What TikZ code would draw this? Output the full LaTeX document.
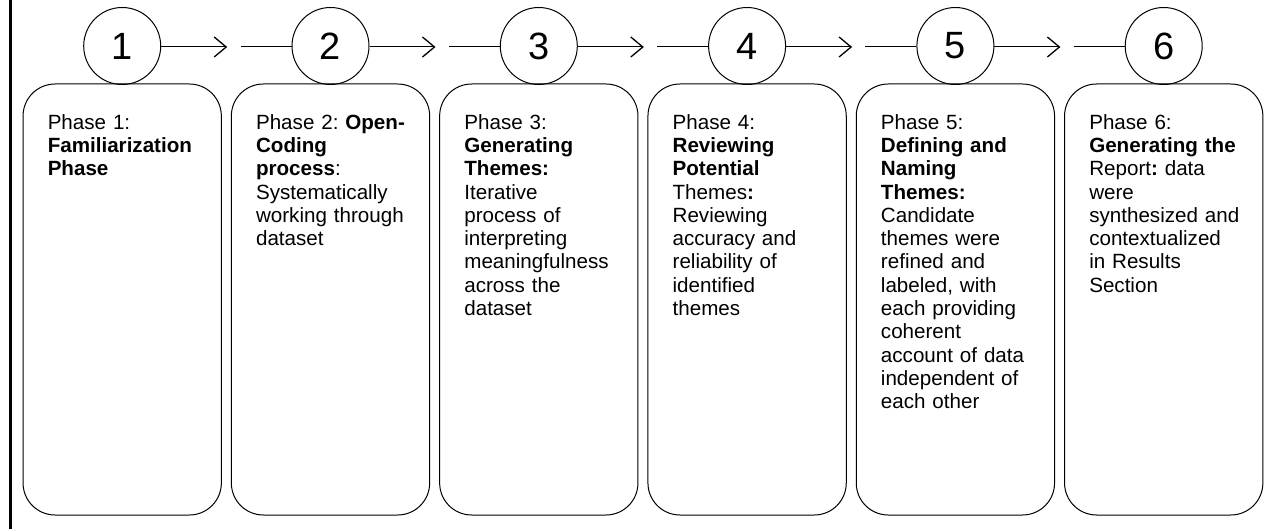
\documentclass[tikz,border=0pt]{standalone}
\usepackage{fontspec}
\setmainfont{Liberation Sans}
\usetikzlibrary{arrows.meta}
\frenchspacing
\begin{document}
\begin{tikzpicture}[x=1pt,y=-1pt,
  phasebox/.style={draw, line width=1pt, rounded corners=32pt, minimum width=198.3pt, minimum height=431pt, inner sep=0pt},
  numcircle/.style={draw, circle, line width=1pt, minimum size=77pt, inner sep=0pt, font=\fontsize{38}{38}\selectfont},
  phasetext/.style={anchor=north west, inner sep=0pt, text width=185pt, align=left, font=\fontsize{20.6}{23.3}\selectfont\frenchspacing},
  flowline/.style={line width=1pt},
  flowarrow/.style={line width=1pt, -{Straight Barb[length=12pt,width=20pt,line width=1.3pt]}}]
\useasboundingbox (0,0) rectangle (1284,529);
\fill (9,0) rectangle (12,529);
% boxes and circles
\foreach \i in {1,...,6}{
  \pgfmathsetmacro{\cx}{122.2+208.3*(\i-1)}
  \node[phasebox] (b\i) at (\cx,299.5) {};
  \node[numcircle] (c\i) at (\cx,46) {\i};
}
% connectors
\foreach \i [evaluate=\i as \j using int(\i+1)] in {1,...,5}{
  \pgfmathsetmacro{\tx}{122.2+208.3*(\i-1)+105}
  \pgfmathsetmacro{\sx}{122.2+208.3*(\i)-90}
  \coordinate (t\i) at (\tx,47);
  \coordinate (s\i) at (\sx,47);
  \draw[flowarrow] (c\i.east |- t\i) -- (t\i);
  \draw[flowline] (s\i) -- (c\j.west |- s\i);
}
% texts
\node[phasetext] (p1) at ([xshift=25pt]b1.west |- 0,114) {Phase 1:\\\textbf{Familiarization}\\\textbf{Phase}};
\node[phasetext] (p2) at ([xshift=25pt]b2.west |- 0,114) {Phase 2: \textbf{Open-}\\\textbf{Coding}\\\textbf{process}:\\Systematically\\working through\\dataset};
\node[phasetext] (p3) at ([xshift=25pt]b3.west |- 0,114) {Phase 3:\\\textbf{Generating}\\\textbf{Themes:}\\Iterative\\process of\\interpreting\\meaningfulness\\across the\\dataset};
\node[phasetext] (p4) at ([xshift=25pt]b4.west |- 0,114) {Phase 4:\\\textbf{Reviewing}\\\textbf{Potential}\\Themes\textbf{:}\\Reviewing\\accuracy and\\reliability of\\identified\\themes};
\node[phasetext] (p5) at ([xshift=25pt]b5.west |- 0,114) {Phase 5:\\\textbf{Defining and}\\\textbf{Naming}\\\textbf{Themes:}\\Candidate\\themes were\\refined and\\labeled, with\\each providing\\coherent\\account of data\\independent of\\each other};
\node[phasetext] (p6) at ([xshift=25pt]b6.west |- 0,114) {Phase 6:\\\textbf{Generating the}\\Report\textbf{:} data\\were\\synthesized and\\contextualized\\in Results\\Section};
\end{tikzpicture}
\end{document}
